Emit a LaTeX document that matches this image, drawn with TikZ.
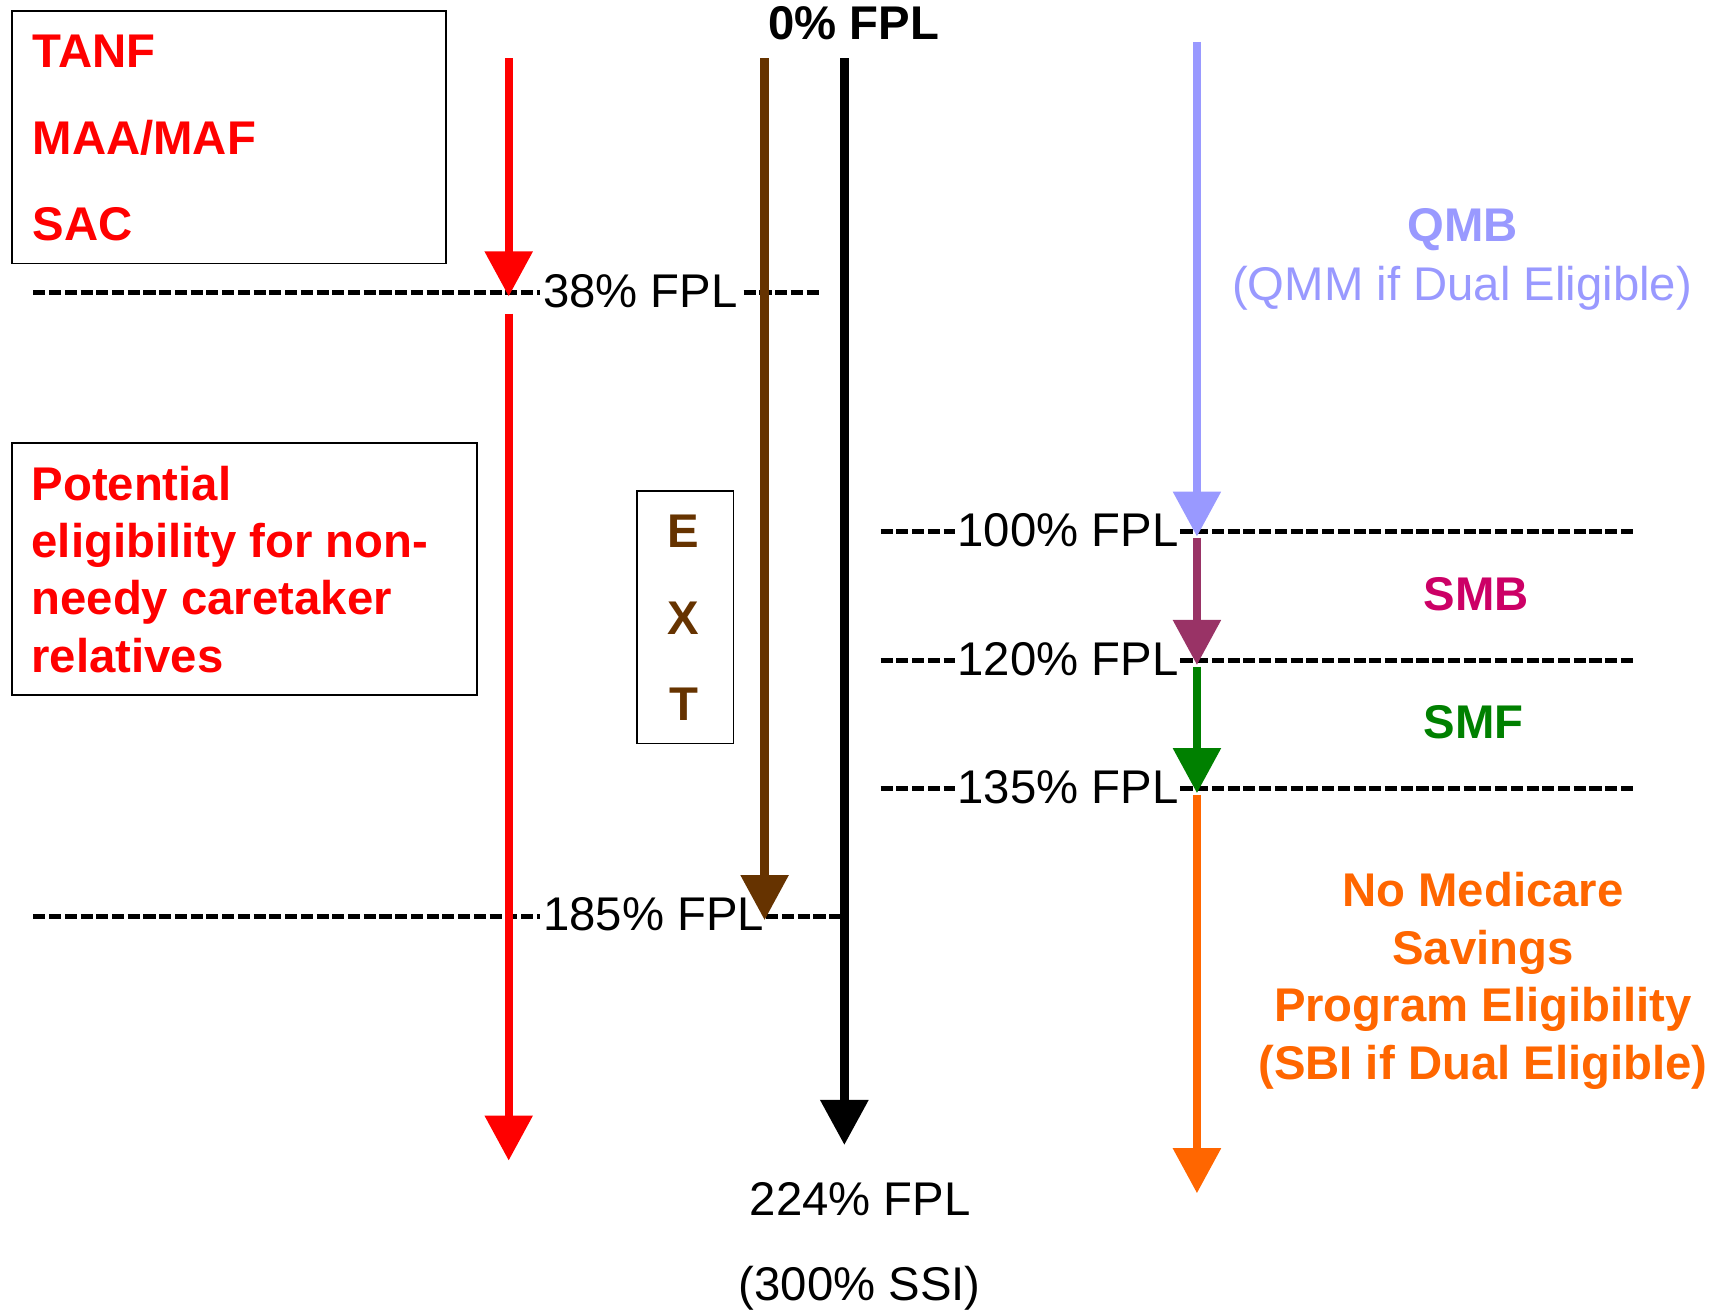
\documentclass[tikz,border=0pt]{standalone}
\usepackage{fontspec}
\setmainfont{Liberation Sans}
\usetikzlibrary{arrows.meta}
\definecolor{fplred}{HTML}{FF0000}
\definecolor{extbrown}{HTML}{663300}
\definecolor{qmblav}{HTML}{9999FF}
\definecolor{smbline}{HTML}{993366}
\definecolor{smbtext}{HTML}{CC0066}
\definecolor{smfgreen}{HTML}{008000}
\definecolor{noorange}{HTML}{FF6600}
\begin{document}
\begin{tikzpicture}[x=1pt,y=-1pt,
  lbl/.style={inner sep=0pt, font=\fontsize{43}{52}\selectfont},
  bl/.style={inner sep=0pt, font=\fontsize{43}{52}\selectfont\bfseries},
  rule/.style={line width=4.4pt, dash pattern=on 11pt off 3.3pt},
  arr/.style={line width=7.5pt, -{Triangle[length=41pt,width=42pt]}},
  frame/.style={draw, line width=1.5pt, inner sep=0pt, anchor=north west}]
\useasboundingbox (0,0) rectangle (1568,1191);

% ---- boxes ----
\node[frame, minimum width=394pt, minimum height=229.7pt] (progbox) at (10.4,9.1) {};
\node[frame, minimum width=422.6pt, minimum height=229.4pt] (relbox) at (10.4,401.8) {};
\node[frame, minimum width=87.7pt, minimum height=229.7pt] (extbox) at (578.2,445.4) {};

% ---- dashed income levels ----
\draw[rule] (30.3,266) -- (491,266);
\draw[rule] (676,266) -- (744,266);
\draw[rule] (30.3,833) -- (491,833);
\draw[rule] (696.5,833) -- (764,833);
\foreach \y in {483.5,600.5,716.5}{
  \draw[rule] (800.5,\y) -- (868,\y);
  \draw[rule] (1073,\y) -- (1484,\y);
}

% ---- level labels ----
\node[lbl, anchor=base west] (t38) at (493.5,279.3) {38\% FPL};
\node[lbl, anchor=base west] (t185) at (493.7,846) {185\% FPL};
\node[lbl, anchor=base west] (t100) at (870.2,497) {100\% FPL};
\node[lbl, anchor=base west] (t120) at (870.2,614) {120\% FPL};
\node[lbl, anchor=base west] (t135) at (870.2,730) {135\% FPL};
\node[bl, anchor=base] (t0) at (776,35.8) {0\% FPL};
\node[lbl, anchor=base] (t224) at (781.9,1104.5) {224\% FPL};
\node[lbl, anchor=base] (tssi) at (781.5,1182.3) {(300\% SSI)};

% ---- program boxes text ----
\begin{scope}[every node/.style={bl, text=fplred, anchor=base west}]
\node (tanf) at (29.5,61.5) {TANF};
\node (maa) at (29.5,140) {MAA/MAF};
\node (sac) at (29.5,218.5) {SAC};
\node (pot1) at (28.5,454.5) {Potential};
\node (pot2) at (28.5,507) {eligibility for non-};
\node (pot3) at (28.5,558.8) {needy caretaker};
\node (pot4) at (28.5,611.2) {relatives};
\end{scope}
\begin{scope}[every node/.style={bl, text=extbrown, anchor=base}]
\node (extE) at (621.5,497.8) {E};
\node (extX) at (621.5,576.6) {X};
\node (extT) at (621.5,654.5) {T};
\end{scope}

% ---- Medicare savings text ----
\node[bl, text=qmblav, anchor=base] (qmb) at (1329.5,219.7) {QMB};
\node[lbl, text=qmblav, anchor=base] (qmm) at (1329,272.7) {(QMM if Dual Eligible)};
\node[bl, text=smbtext, anchor=base] (smb) at (1342,555) {SMB};
\node[bl, text=smfgreen, anchor=base] (smf) at (1339.5,671) {SMF};
\begin{scope}[every node/.style={bl, text=noorange, anchor=base}]
\node (no1) at (1348,824.2) {No Medicare};
\node (no2) at (1348,876.6) {Savings};
\node (no3) at (1348,928.7) {Program Eligibility};
\node (no4) at (1348,981.1) {(SBI if Dual Eligible)};
\end{scope}

% ---- arrow end points ----
\coordinate (r1s) at (462.4,53);   \coordinate (r1e) at (462.4,269.5);
\coordinate (r2s) at (462.4,285);  \coordinate (r2e) at (462.4,1055);
\coordinate (bs) at (695,53);      \coordinate (be) at (695,836.4);
\coordinate (ks) at (767.5,53);    \coordinate (ke) at (767.5,1040.8);
\coordinate (ls) at (1088,38);     \coordinate (le) at (1088,487.8);
\coordinate (ms) at (1088,489);    \coordinate (me) at (1088,604.5);
\coordinate (gs) at (1088,606);    \coordinate (ge) at (1088,721);
\coordinate (os) at (1088,722.7);  \coordinate (oe) at (1088,1084.7);

% ---- arrows ----
\draw[arr, fplred] (r1s) -- (r1e);
\draw[arr, fplred] (r2s) -- (r2e);
\draw[arr, extbrown] (bs) -- (be);
\draw[arr, black, line width=8pt] (ks) -- (ke);
\draw[arr, qmblav] (ls) -- (le);
\draw[arr, smbline] (ms) -- (me);
\draw[arr, smfgreen] (gs) -- (ge);
\draw[arr, noorange] (os) -- (oe);
\end{tikzpicture}
\end{document}
